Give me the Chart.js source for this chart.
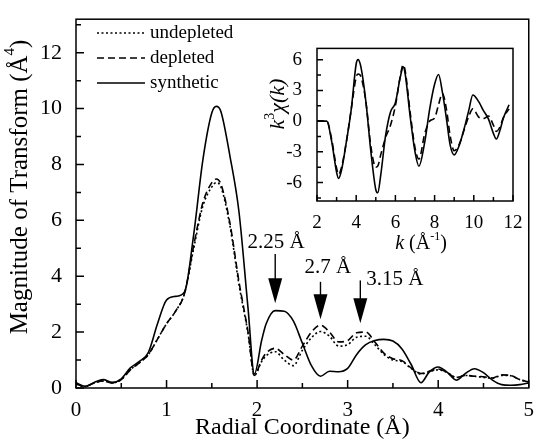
<!DOCTYPE html>
<html>
<head>
<meta charset="utf-8">
<script src="https://cdn.jsdelivr.net/npm/chart.js@4.4.0/dist/chart.umd.min.js"></script>
<style>
  body { margin: 0; background: #fff; }
  #wrap { position: relative; width: 536px; height: 443px; }
  #main { position: absolute; left: 0; top: 0; }
  #inset { position: absolute; left: 262px; top: 30px; }
</style>
</head>
<body>
<div id="wrap">
  <canvas id="main" width="536" height="443"></canvas>
  <canvas id="inset" width="268" height="230"></canvas>
</div>
<script>
// main plot: magnitude of the Fourier transform vs radial coordinate (Å)
const radial = [0, 0.1, 0.2, 0.3, 0.4, 0.5, 0.6, 0.7, 0.8, 0.9, 1.0, 1.1, 1.2, 1.3, 1.4, 1.5, 1.55, 1.6, 1.7, 1.8, 1.9, 1.97,
  2.05, 2.1, 2.2, 2.3, 2.4, 2.5, 2.6, 2.7, 2.8, 2.9, 3.0, 3.1, 3.2, 3.3, 3.4, 3.5, 3.6, 3.7, 3.81,
  3.9, 4.0, 4.1, 4.2, 4.3, 4.4, 4.5, 4.6, 4.7, 4.8, 4.9, 5.0];
const synthetic = [0.19, 0.06, 0.2, 0.3, 0.2, 0.33, 0.72, 0.95, 1.28, 2.3, 3.15, 3.28, 3.45, 5.5, 8.14, 9.85, 10.08, 9.9, 8.3, 6.3, 2.85, 0.5,
  1.7, 2.3, 2.77, 2.75, 2.4, 1.6, 0.8, 0.42, 0.6, 0.58, 0.7, 1.2, 1.55, 1.7, 1.74, 1.68, 1.4, 0.85, 0.19,
  0.57, 0.75, 0.56, 0.28, 0.52, 0.69, 0.55, 0.28, 0.12, 0.1, 0.12, 0.18];
const depleted = [0.15, 0.05, 0.18, 0.25, 0.18, 0.3, 0.65, 0.9, 1.2, 1.75, 2.3, 2.75, 3.4, 5.1, 6.62, 7.35, 7.48, 7.3, 5.9, 3.8, 2.0, 0.45,
  1.0, 1.25, 1.42, 1.2, 1.0, 1.5, 2.0, 2.25, 2.0, 1.65, 1.7, 1.98, 2.0, 1.65, 1.25, 1.05, 0.98, 0.72, 0.52,
  0.6, 0.68, 0.55, 0.37, 0.45, 0.42, 0.4, 0.36, 0.47, 0.45, 0.3, 0.22];
const undepleted = [0.15, 0.05, 0.18, 0.25, 0.18, 0.3, 0.65, 0.9, 1.2, 1.75, 2.3, 2.75, 3.4, 5.0, 6.5, 7.2, 7.35, 7.2, 5.8, 3.7, 1.95, 0.45,
  0.95, 1.15, 1.3, 1.0, 0.8, 1.35, 1.8, 2.02, 1.85, 1.5, 1.55, 1.82, 1.85, 1.55, 1.2, 1.0, 0.95, 0.7, 0.5,
  0.58, 0.65, 0.55, 0.38, 0.45, 0.42, 0.38, 0.35, 0.45, 0.44, 0.3, 0.22];
const seriesNames = ['undepleted', 'depleted', 'synthetic'];

// inset: k^3 chi(k) vs k
const kValues = [2.0, 2.25, 2.5, 2.75, 3.0, 3.1, 3.25, 3.5, 3.75, 4.0, 4.1, 4.25, 4.5, 4.75, 5.0, 5.1, 5.25, 5.5, 5.75, 6.0,
  6.25, 6.4, 6.5, 6.75, 7.0, 7.2, 7.5, 7.75, 8.0, 8.2, 8.4, 8.6, 8.8, 9.0, 9.25, 9.5, 9.75, 9.95, 10.25, 10.5,
  10.75, 11.0, 11.15, 11.35, 11.5, 11.8];
const chiSynthetic = [0, 0, 0, -2.0, -5.0, -5.6, -4.8, -2.0, 1.2, 5.6, 6.0, 5.2, 1.8, -3.0, -6.7, -7.0, -5.3, -1.4, 0.9, 1.8,
  4.3, 5.3, 4.6, 0.5, -3.0, -4.4, -2.0, 1.2, 3.6, 4.55, 2.8, 0.3, -2.4, -3.3, -2.4, -0.8, 1.1, 2.55, 1.9, 1.0,
  0.2, -1.2, -1.75, -0.8, 0.25, 1.6];
const chiDepleted = [0, 0, 0, -1.8, -4.6, -5.2, -4.5, -2.0, 1.2, 4.3, 4.6, 4.3, 1.8, -2.5, -4.5, -4.4, -3.3, -1.6, -0.4, 1.5,
  4.4, 5.5, 4.9, 0.9, -2.6, -3.7, -1.2, 0.0, 0.3, 1.6, 2.7, 1.2, -1.5, -2.9, -2.3, -0.9, 0.5, 1.2, 0.4, 0.25,
  0.5, -0.4, -1.0, -0.5, 0.3, 1.2];

// peaks marked with arrows (Å)
const arrowLabels = ['2.25 Å', '2.7 Å', '3.15 Å'];
const arrowR = [2.2, 2.7, 3.14];

const SERIF = "'Liberation Serif', 'Times New Roman', serif";
Chart.defaults.font.family = SERIF;
Chart.defaults.color = '#000';

const styles = {
  undepleted: [2, 2.5],
  depleted: [7, 4],
  synthetic: []
};

function pts(xs, ys) {
  return xs.map((x, i) => ({ x: x, y: ys[i] }));
}

function richText(ctx, parts, cx, cy, angle) {
  ctx.save();
  ctx.translate(cx, cy);
  ctx.rotate(angle || 0);
  ctx.textAlign = 'left';
  ctx.textBaseline = 'alphabetic';
  ctx.fillStyle = '#000';
  let w = 0;
  parts.forEach(p => { ctx.font = p.font; w += ctx.measureText(p.text).width; });
  let x = -w / 2;
  parts.forEach(p => {
    ctx.font = p.font;
    ctx.fillText(p.text, x, p.dy || 0);
    x += ctx.measureText(p.text).width;
  });
  ctx.restore();
}

// frame + inward ticks
const boxTicks = {
  id: 'boxTicks',
  afterDatasetsDraw(chart, args, o) {
    const { ctx, chartArea: a } = chart;
    const sx = chart.scales.x, sy = chart.scales.y;
    ctx.save();
    ctx.strokeStyle = '#000';
    ctx.lineWidth = 1.5;
    ctx.setLineDash([]);
    ctx.strokeRect(a.left, a.top, a.right - a.left, a.bottom - a.top);
    ctx.beginPath();
    for (let v = Math.ceil(sx.min / o.xMinor - 1e-6) * o.xMinor; v <= sx.max + 1e-6; v += o.xMinor) {
      const px = sx.getPixelForValue(v);
      const major = Math.abs(v / o.xMajor - Math.round(v / o.xMajor)) < 1e-6;
      ctx.moveTo(px, a.bottom);
      ctx.lineTo(px, a.bottom - (major ? o.major : o.minor));
    }
    for (let v = Math.ceil(sy.min / o.yMinor - 1e-6) * o.yMinor; v <= sy.max + 1e-6; v += o.yMinor) {
      const py = sy.getPixelForValue(v);
      const major = Math.abs(v / o.yMajor - Math.round(v / o.yMajor)) < 1e-6;
      ctx.moveTo(a.left, py);
      ctx.lineTo(a.left + (major ? o.major : o.minor), py);
    }
    ctx.stroke();
    ctx.restore();
  }
};

// legend, arrows and y title of the main plot
const mainExtras = {
  id: 'mainExtras',
  afterDraw(chart) {
    const { ctx } = chart;
    const sx = chart.scales.x, sy = chart.scales.y;
    ctx.save();
    // legend
    seriesNames.forEach((name, i) => {
      const y = 33 + i * 25;
      ctx.strokeStyle = '#000';
      ctx.lineWidth = 1.6;
      ctx.setLineDash(styles[name]);
      ctx.beginPath();
      ctx.moveTo(97, y);
      ctx.lineTo(145, y);
      ctx.stroke();
      ctx.setLineDash([]);
      ctx.fillStyle = '#000';
      ctx.font = '19px ' + SERIF;
      ctx.textAlign = 'left';
      ctx.textBaseline = 'middle';
      ctx.fillText(name, 150, y);
    });
    // arrows
    const tops = [4.8, 3.8, 3.85];
    const tips = [3.03, 2.46, 2.32];
    const labelPos = [[2.21, 5.2], [2.78, 4.33], [3.52, 3.9]];
    arrowR.forEach((r, i) => {
      const px = sx.getPixelForValue(r);
      const y0 = sy.getPixelForValue(tops[i]);
      const y1 = sy.getPixelForValue(tips[i]);
      ctx.strokeStyle = '#000';
      ctx.lineWidth = 1.4;
      ctx.beginPath();
      ctx.moveTo(px, y0);
      ctx.lineTo(px, y1 - 20);
      ctx.stroke();
      ctx.fillStyle = '#000';
      ctx.beginPath();
      ctx.moveTo(px - 7, y1 - 25);
      ctx.lineTo(px + 7, y1 - 25);
      ctx.lineTo(px, y1);
      ctx.closePath();
      ctx.fill();
      ctx.font = '21px ' + SERIF;
      ctx.textAlign = 'center';
      ctx.textBaseline = 'middle';
      ctx.fillText(arrowLabels[i], sx.getPixelForValue(labelPos[i][0]), sy.getPixelForValue(labelPos[i][1]));
    });
    ctx.restore();
    // y axis title
    richText(ctx, [
      { text: 'Magnitude of Transform (Å', font: '25px ' + SERIF },
      { text: '4', font: '15px ' + SERIF, dy: -13 },
      { text: ')', font: '25px ' + SERIF }
    ], 27, 187, -Math.PI / 2);
  }
};

const insetTitles = {
  id: 'insetTitles',
  afterDraw(chart) {
    const { ctx } = chart;
    richText(ctx, [
      { text: 'k', font: 'italic 22px ' + SERIF },
      { text: '3', font: '14px ' + SERIF, dy: -10 },
      { text: 'χ(', font: 'italic 22px ' + SERIF },
      { text: 'k', font: 'italic 22px ' + SERIF },
      { text: ')', font: 'italic 22px ' + SERIF }
    ], 22, 74, -Math.PI / 2);
    richText(ctx, [
      { text: 'k', font: 'italic 20px ' + SERIF },
      { text: ' (Å', font: '20px ' + SERIF },
      { text: '-1', font: '12px ' + SERIF, dy: -9 },
      { text: ')', font: '20px ' + SERIF }
    ], 159, 219);
  }
};

function lineSet(label, data) {
  return {
    label: label,
    data: data,
    borderColor: '#000',
    borderWidth: 1.6,
    borderDash: styles[label],
    pointRadius: 0,
    fill: false,
    cubicInterpolationMode: 'monotone'
  };
}

new Chart(document.getElementById('main'), {
  type: 'line',
  data: {
    datasets: [
      lineSet('synthetic', pts(radial, synthetic)),
      lineSet('depleted', pts(radial, depleted)),
      lineSet('undepleted', pts(radial, undepleted))
    ]
  },
  options: {
    responsive: false,
    animation: false,
    layout: { padding: { top: 12, right: 5, left: 0, bottom: 0 } },
    plugins: {
      legend: { display: false },
      tooltip: { enabled: false },
      boxTicks: { xMinor: 0.5, xMajor: 1, yMinor: 1, yMajor: 2, major: 8, minor: 5 }
    },
    scales: {
      x: {
        type: 'linear', min: 0, max: 5,
        grid: { display: false }, border: { display: false },
        ticks: { stepSize: 1, font: { size: 21 }, padding: 2, includeBounds: false, maxRotation: 0 },
        title: { display: true, text: 'Radial Coordinate (Å)', font: { size: 24 }, padding: { top: 0, bottom: 1 } },
        afterFit(s) { s.height = 55; }
      },
      y: {
        type: 'linear', min: 0, max: 13.2,
        grid: { display: false }, border: { display: false },
        ticks: { stepSize: 2, font: { size: 22 }, padding: 6, includeBounds: false },
        afterFit(s) { s.width = 76; }
      }
    }
  },
  plugins: [boxTicks, mainExtras]
});

new Chart(document.getElementById('inset'), {
  type: 'line',
  data: {
    datasets: [
      lineSet('synthetic', pts(kValues, chiSynthetic)),
      lineSet('depleted', pts(kValues, chiDepleted))
    ]
  },
  options: {
    responsive: false,
    animation: false,
    layout: { padding: { top: 9, right: 17, left: 0, bottom: 0 } },
    plugins: {
      legend: { display: false },
      tooltip: { enabled: false },
      boxTicks: { xMinor: 1, xMajor: 2, yMinor: 1.5, yMajor: 3, major: 6, minor: 4 }
    },
    scales: {
      x: {
        type: 'linear', min: 2, max: 12,
        grid: { display: false }, border: { display: false },
        ticks: { stepSize: 2, font: { size: 19 }, padding: 3, includeBounds: false, maxRotation: 0 },
        afterFit(s) { s.height = 59; }
      },
      y: {
        type: 'linear', min: -7.8, max: 7.1,
        grid: { display: false }, border: { display: false },
        ticks: { stepSize: 3, font: { size: 19 }, padding: 7, includeBounds: false },
        afterFit(s) { s.width = 55; }
      }
    }
  },
  plugins: [boxTicks, insetTitles]
});
</script>
</body>
</html>
